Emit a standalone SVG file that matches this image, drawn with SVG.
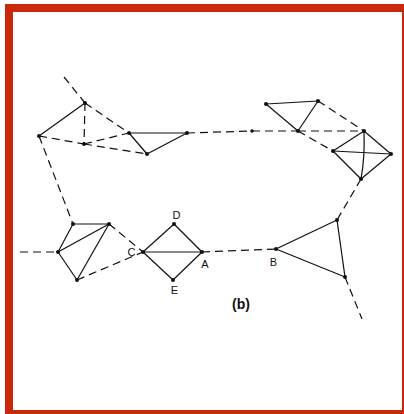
<svg xmlns="http://www.w3.org/2000/svg" width="404" height="414" viewBox="0 0 404 414">
<style>
.s{stroke:#111;stroke-width:1.2;fill:none}
.d{stroke:#111;stroke-width:1.2;fill:none;stroke-dasharray:8 5}
.n{fill:#111}
.t{font-family:"Liberation Sans",Arial,sans-serif;font-size:11px;fill:#111;text-anchor:middle}
</style>
<rect x="0" y="0" width="404" height="414" fill="#fff"/>
<path d="M5,4 H404 V414 H5 Z M13,12 V410 H402 V12 Z" fill="#c9280a" fill-rule="evenodd"/>
<g id="connectors">
<!-- top-left cluster -->
<line class="d" x1="64" y1="77" x2="85" y2="103"/>
<line class="s" x1="39" y1="136" x2="85" y2="103"/>
<line class="d" x1="85" y1="103" x2="84" y2="144"/>
<line class="d" x1="85" y1="103" x2="129" y2="133"/>
<line class="d" x1="39" y1="136" x2="84" y2="144"/>
<line class="d" x1="84" y1="144" x2="147" y2="154"/>
<line class="d" x1="84" y1="144" x2="129" y2="133"/>
<line class="s" x1="129" y1="133" x2="147" y2="154"/>
<line class="s" x1="147" y1="154" x2="187" y2="133"/>
<line class="s" x1="129" y1="133" x2="187" y2="133"/>
<line class="d" x1="187" y1="133" x2="252" y2="131"/>
<line class="d" x1="252" y1="131" x2="298" y2="131"/>
<!-- top-right cluster -->
<line class="s" x1="266" y1="104" x2="318" y2="101"/>
<line class="s" x1="318" y1="101" x2="298" y2="131"/>
<line class="s" x1="266" y1="104" x2="298" y2="131"/>
<line class="d" x1="318" y1="101" x2="364" y2="131"/>
<line class="d" x1="298" y1="131" x2="364" y2="131"/>
<line class="d" x1="298" y1="131" x2="333" y2="151"/>
<line class="s" x1="364" y1="131" x2="333" y2="151"/>
<line class="s" x1="364" y1="131" x2="391" y2="154"/>
<path class="s" d="M364,131 Q365,157 361,179"/>
<line class="s" x1="333" y1="151" x2="391" y2="154"/>
<line class="s" x1="333" y1="151" x2="361" y2="179"/>
<line class="s" x1="391" y1="154" x2="361" y2="179"/>
<line class="d" x1="361" y1="179" x2="337" y2="220"/>
<!-- left-vertical link -->
<line class="d" x1="39" y1="136" x2="73" y2="224"/>
<!-- lower-left cluster -->
<line class="d" x1="20" y1="252" x2="58" y2="252"/>
<line class="s" x1="73" y1="224" x2="109" y2="224"/>
<line class="s" x1="73" y1="224" x2="58" y2="252"/>
<line class="s" x1="58" y1="252" x2="109" y2="224"/>
<line class="s" x1="109" y1="224" x2="77" y2="280"/>
<line class="s" x1="58" y1="252" x2="77" y2="280"/>
<line class="d" x1="109" y1="224" x2="143" y2="252"/>
<line class="d" x1="77" y1="280" x2="143" y2="252"/>
<!-- diamond -->
<line class="s" x1="143" y1="252" x2="174" y2="224"/>
<line class="s" x1="174" y1="224" x2="202" y2="252"/>
<line class="s" x1="202" y1="252" x2="173" y2="280"/>
<line class="s" x1="173" y1="280" x2="143" y2="252"/>
<line class="s" x1="143" y1="252" x2="202" y2="252"/>
<line class="d" x1="202" y1="252" x2="276" y2="249"/>
<!-- lower-right triangle -->
<line class="s" x1="276" y1="249" x2="337" y2="220"/>
<line class="s" x1="276" y1="249" x2="345" y2="277"/>
<line class="s" x1="337" y1="220" x2="345" y2="277"/>
<line class="d" x1="345" y1="277" x2="362" y2="319"/>
</g>
<g id="n-p1"><circle class="n" cx="39" cy="136" r="2"/></g>
<g id="n-p2"><circle class="n" cx="85" cy="103" r="2"/></g>
<g id="n-p3"><circle class="n" cx="84" cy="144" r="2"/></g>
<g id="n-p4"><circle class="n" cx="129" cy="133" r="2"/></g>
<g id="n-p5"><circle class="n" cx="147" cy="154" r="2"/></g>
<g id="n-p6"><circle class="n" cx="187" cy="133" r="2"/></g>
<g id="n-m"><circle class="n" cx="252" cy="131" r="1.8"/></g>
<g id="n-q1"><circle class="n" cx="266" cy="104" r="2"/></g>
<g id="n-q2"><circle class="n" cx="318" cy="101" r="2"/></g>
<g id="n-q3"><circle class="n" cx="298" cy="131" r="2"/></g>
<g id="n-q4"><circle class="n" cx="364" cy="131" r="2"/></g>
<g id="n-q5"><circle class="n" cx="333" cy="151" r="2"/></g>
<g id="n-q6"><circle class="n" cx="391" cy="154" r="2"/></g>
<g id="n-q7"><circle class="n" cx="361" cy="179" r="2"/></g>
<g id="n-r1"><circle class="n" cx="73" cy="224" r="2"/></g>
<g id="n-r2"><circle class="n" cx="109" cy="224" r="2"/></g>
<g id="n-r3"><circle class="n" cx="58" cy="252" r="2"/></g>
<g id="n-r4"><circle class="n" cx="77" cy="280" r="2"/></g>
<g id="n-c"><circle class="n" cx="143" cy="252" r="2"/><text class="t" x="131.5" y="256">C</text></g>
<g id="n-d"><circle class="n" cx="174" cy="224" r="2"/><text class="t" x="176.5" y="219">D</text></g>
<g id="n-a"><circle class="n" cx="202" cy="252" r="2"/><text class="t" x="205" y="267.5">A</text></g>
<g id="n-e"><circle class="n" cx="173" cy="280" r="2"/><text class="t" x="174.5" y="293.5">E</text></g>
<g id="n-b"><circle class="n" cx="276" cy="249" r="2"/><text class="t" x="273.5" y="266">B</text></g>
<g id="n-s1"><circle class="n" cx="337" cy="220" r="2"/></g>
<g id="n-s2"><circle class="n" cx="345" cy="277" r="2"/></g>
<text x="241" y="309" font-family="Liberation Sans,Arial,sans-serif" font-size="14" font-weight="bold" fill="#111" text-anchor="middle">(b)</text>
</svg>
